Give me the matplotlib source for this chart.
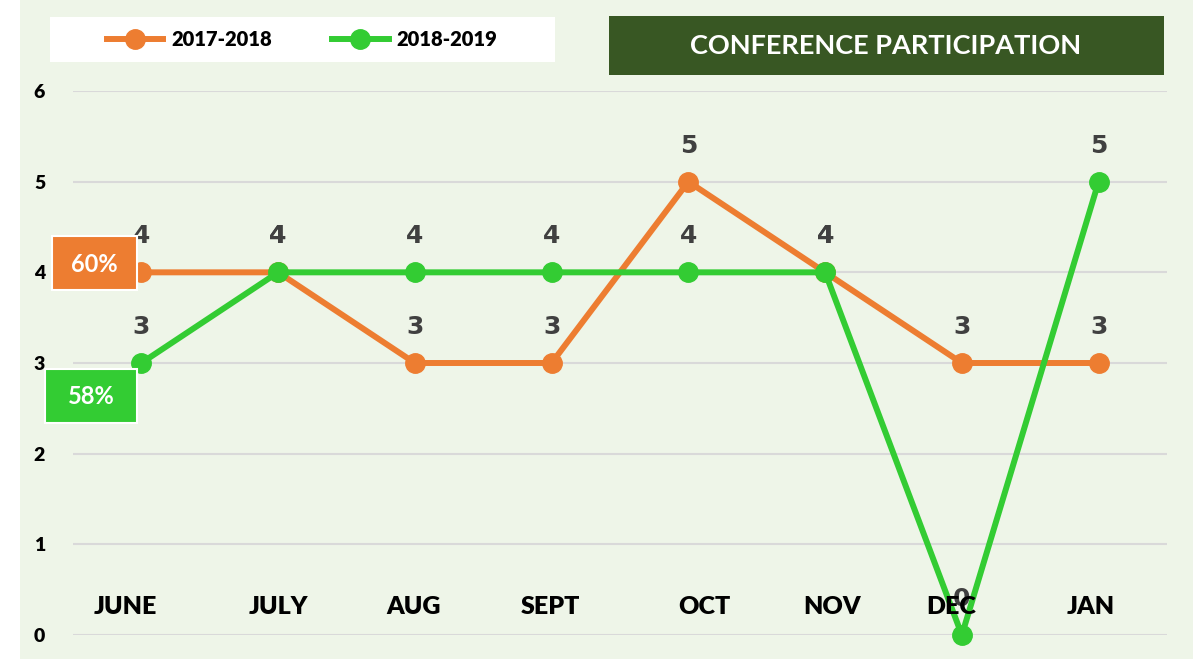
import matplotlib.pyplot as plt
from matplotlib.patches import Rectangle

months = ["JUNE", "JULY", "AUG", "SEPT", "OCT", "NOV", "DEC", "JAN"]
y_2017_2018 = [4, 4, 3, 3, 5, 4, 3, 3]
y_2018_2019 = [3, 4, 4, 4, 4, 4, 0, 5]
series_names = ["2017-2018", "2018-2019"]
percent_labels = ["60%", "58%"]

ORANGE = "#ED7D31"
GREEN = "#33CC33"
DARK = "#385723"
BG = "#EEF5E8"

W, H = 1193, 659
fig = plt.figure(figsize=(W / 100, H / 100), dpi=100)
fig.patch.set_facecolor("white")


def px_rect(x0, y0, x1, y1, **kw):
    # pixel box (top-left origin) -> figure fraction rectangle
    r = Rectangle((x0 / W, 1 - y1 / H), (x1 - x0) / W, (y1 - y0) / H,
                  transform=fig.transFigure, **kw)
    fig.add_artist(r)
    return r


px_rect(20, 0, W, H, facecolor=BG, edgecolor="none", zorder=-5)

ax = fig.add_axes([73 / W, (H - 635) / H, 1094 / W, 544 / H])
ax.set_facecolor("none")
x = list(range(len(months)))

ax.plot(x, y_2017_2018, color=ORANGE, lw=4.3, marker="o", ms=14,
        label=series_names[0], clip_on=False, zorder=3)
ax.plot(x, y_2018_2019, color=GREEN, lw=4.3, marker="o", ms=14,
        label=series_names[1], clip_on=False, zorder=4)

for series in (y_2017_2018, y_2018_2019):
    for xi, v in zip(x, series):
        ax.annotate(str(v), (xi, v), xytext=(0, 26), textcoords="offset points",
                    ha="center", va="center", fontsize=18, fontweight="bold",
                    color="#404040", family="DejaVu Sans", zorder=6)

# month labels sit inside the plot, slightly shifted like the hand-placed originals
label_shift = [-0.12, 0.0, -0.01, -0.01, 0.12, 0.05, -0.08, -0.06]
for xi, m, dx in zip(x, months, label_shift):
    ax.text(xi + dx, 0.31, m, ha="center", va="center", fontsize=18,
            fontweight="heavy", family="Lato", color="black", zorder=7)

ax.set_xlim(-0.5, 7.5)
ax.set_ylim(0, 6)
ax.set_yticks(range(7))
ax.set_xticks([])
ax.yaxis.grid(True, color="#D9D9D9", lw=1.5)
ax.set_axisbelow(True)
for s in ax.spines.values():
    s.set_visible(False)
ax.tick_params(axis="y", length=0, pad=20)
for lab in ax.get_yticklabels():
    lab.set_fontsize(14)
    lab.set_fontweight("heavy")
    lab.set_family("Lato")

# legend box
px_rect(50, 17, 555, 62, facecolor="white", edgecolor="none", zorder=5)
leg = fig.legend(loc="center", bbox_to_anchor=(302 / W, 1 - 40 / H), ncol=2,
                 frameon=False, prop={"family": "Lato", "weight": "heavy", "size": 14.5},
                 handlelength=2.8, columnspacing=3.0, handletextpad=0.4)
leg.set_zorder(6)

# title box
px_rect(609, 16, 1164, 75, facecolor=DARK, edgecolor="none", zorder=5)
fig.text(886 / W, 1 - 46 / H, "CONFERENCE PARTICIPATION", ha="center", va="center",
         color="white", fontsize=19.5, fontweight="bold", family="Lato", zorder=6)

# percentage boxes
px_rect(52, 236, 137, 290, facecolor=ORANGE, edgecolor="white", lw=1.5, zorder=5)
fig.text(94 / W, 1 - 264 / H, percent_labels[0], ha="center", va="center",
         color="white", fontsize=17, fontweight="bold", family="Lato", zorder=6)
px_rect(45, 369, 137, 423, facecolor=GREEN, edgecolor="white", lw=1.5, zorder=5)
fig.text(91 / W, 1 - 397 / H, percent_labels[1], ha="center", va="center",
         color="white", fontsize=17, fontweight="bold", family="Lato", zorder=6)

fig.savefig("out.png", dpi=100, facecolor=fig.get_facecolor())
